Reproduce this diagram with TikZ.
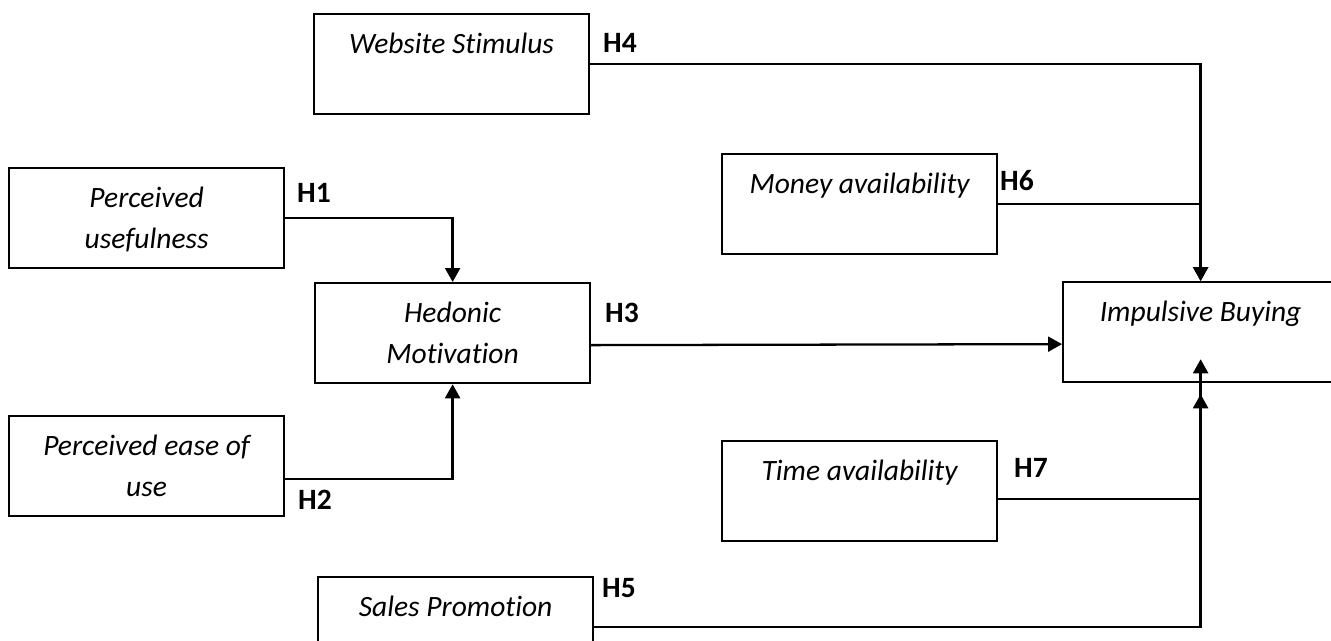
\documentclass[tikz,border=0pt]{standalone}
\usepackage{fontspec}
\setmainfont{Carlito}[Ligatures=NoCommon]
\usetikzlibrary{arrows.meta}

\begin{document}
\begin{tikzpicture}[x=0.02cm, y=-0.02cm, line width=1.3pt,
  >={Triangle[length=0.28cm, width=0.3cm]},
  construct/.style={draw, rectangle, anchor=north west, inner sep=0pt,
    minimum width=5.5cm, minimum height=2cm, align=center,
    text height=0.78cm, text depth=1.22cm,
    font=\fontsize{16.8}{23.3}\selectfont\itshape},
  twoline/.style={text height=1.6cm, text depth=0.4cm},
  hlabel/.style={font=\fontsize{16.8}{20}\selectfont\bfseries}]
\useasboundingbox (0, 0) rectangle (1331, 641);
\clip (0, 0) rectangle (1331, 641);
% constructs
\node at (313, 13) [construct, name=web] {Website Stimulus};
\node at (8, 167) [construct, twoline, name=usef] {Perceived\\usefulness};
\node at (314, 282) [construct, twoline, name=hed] {Hedonic\\Motivation};
\node at (8, 415) [construct, twoline, name=ease] {Perceived ease of\\use};
\node at (317, 576) [construct, name=sales] {Sales Promotion};
\node at (721, 153) [construct, name=money] {Money availability};
\node at (721, 440) [construct, name=time] {Time availability};
\node at (1062, 281) [construct, name=imp] {Impulsive Buying};
% hypotheses
\node at (620, 43) [hlabel, name=h4] {H4};
\node at (314, 193) [hlabel, name=h1] {H1};
\node at (1017, 181) [hlabel, name=h6] {H6};
\node at (622, 313) [hlabel, name=h3] {H3};
\node at (315, 500) [hlabel, name=h2] {H2};
\node at (1031, 468) [hlabel, name=h7] {H7};
\node at (619, 588) [hlabel, name=h5] {H5};
% paths
\draw [->] (web.east) -| (imp.north);
\draw [->] (money.east) -| (imp.north);
\draw [->] (usef.east) -| (hed.north);
\draw [->] ([yshift=-0.26cm]ease.east) -| (hed.south);
\draw [->] ([yshift=-0.24cm]hed.east) -- ([yshift=-0.24cm]imp.west);
\draw [->] ([yshift=-0.16cm]time.east) -| ([yshift=-0.22cm]imp.south);
\draw [->] (sales.east) -| ([yshift=0.48cm]imp.south);
\end{tikzpicture}
\end{document}
